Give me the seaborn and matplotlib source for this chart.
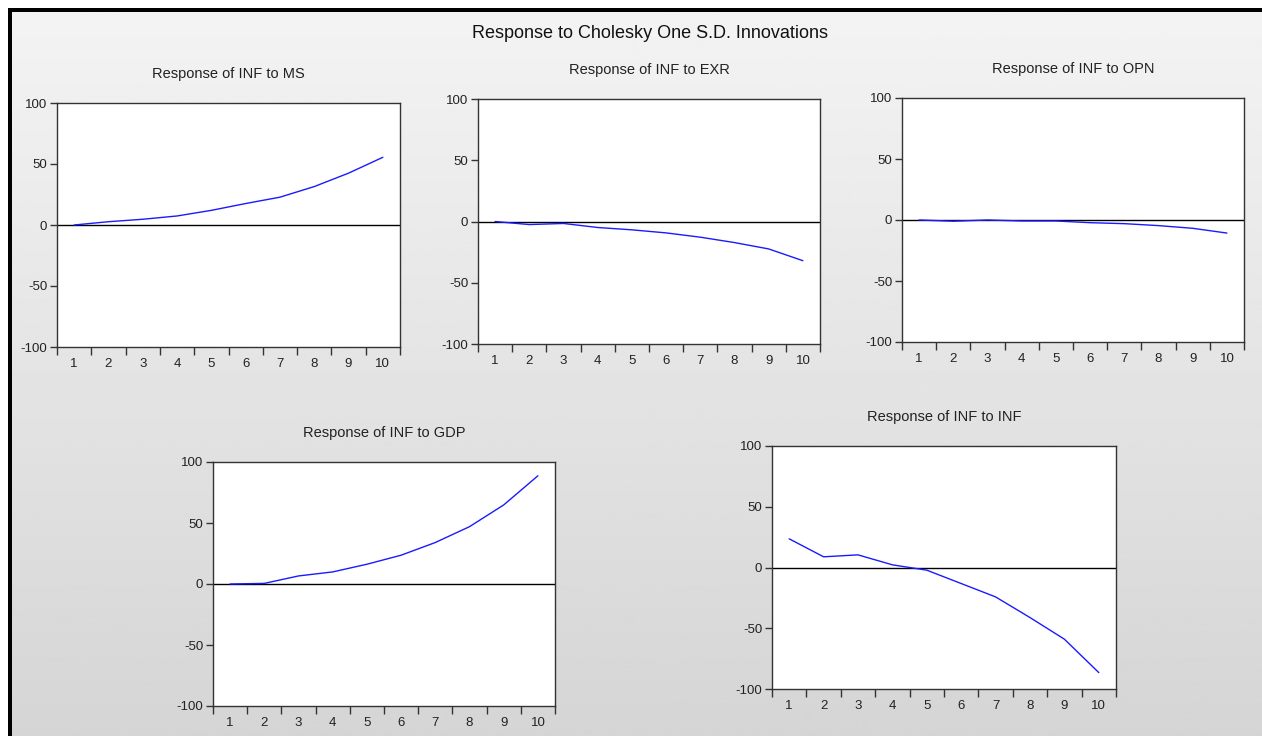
import numpy as np
import pandas as pd
import matplotlib
matplotlib.use("Agg")
import matplotlib.pyplot as plt
from matplotlib.patches import Rectangle
import seaborn as sns

# impulse response values (periods 1..10)
periods = list(range(1, 11))
resp_ms = [0, 2.7, 4.7, 7.4, 12, 17.6, 22.8, 31.5, 42.5, 55.5]
resp_exr = [0, -2.5, -1.6, -4.9, -6.8, -9.3, -12.8, -17.2, -22.4, -32]
resp_opn = [0, -1, 0, -0.8, -0.8, -2.2, -3, -4.6, -6.8, -10.7]
resp_gdp = [0, 0.5, 6.6, 9.9, 16.2, 23.6, 34, 47, 64.8, 88.7]
resp_inf = [23.6, 8.8, 10.4, 2.2, -2.2, -13.2, -24.2, -41.2, -59, -86.5]
shocks = ["MS", "EXR", "OPN", "GDP", "INF"]
y_ticks = [-100, -50, 0, 50, 100]

W, H = 1262, 736

# axes boxes in pixels: left, right, top, bottom
boxes = [
    (57, 400, 103, 347),
    (478, 820, 99, 344),
    (902, 1244, 98, 342),
    (213, 555, 462, 706),
    (772, 1116, 446, 689),
]

sns.set_theme(style="white")
plt.rcParams["font.family"] = ["Liberation Sans", "DejaVu Sans"]

fig = plt.figure(figsize=(W / 100, H / 100), dpi=100)

# grey gradient background with black frame at top/left (screenshot look)
bg = fig.add_axes([0, 0, 1, 1], zorder=-10)
grad = np.linspace(0.955, 0.835, 256).reshape(-1, 1)
bg.imshow(grad, aspect="auto", cmap="gray", vmin=0, vmax=1,
          extent=[0, W, H, 0])
bg.set_xlim(0, W)
bg.set_ylim(H, 0)
bg.add_patch(Rectangle((0, 0), W, 8, color="white", lw=0))
bg.add_patch(Rectangle((0, 0), 8, H, color="white", lw=0))
bg.add_patch(Rectangle((8, 8), W, 4, color="black", lw=0))
bg.add_patch(Rectangle((8, 8), 4, H, color="black", lw=0))
bg.axis("off")

fig.text(650 / W, 1 - 34 / H, "Response to Cholesky One S.D. Innovations",
         ha="center", va="center", fontsize=13, color="#111111")

series = [resp_ms, resp_exr, resp_opn, resp_gdp, resp_inf]
for (l, r, t, b), name, vals in zip(boxes, shocks, series):
    ax = fig.add_axes([l / W, 1 - b / H, (r - l) / W, (b - t) / H])
    ax.set_facecolor("white")
    ax.axhline(0, color="black", lw=1, zorder=1)
    df = pd.DataFrame({"period": periods, "value": vals})
    sns.lineplot(data=df, x="period", y="value", ax=ax, color="#1a1aff",
                 lw=1, zorder=3)
    ax.set_xlim(0.5, 10.5)
    ax.set_ylim(-100, 100)
    ax.set_yticks(y_ticks)
    ax.set_yticklabels([str(v) for v in y_ticks], fontsize=9.5, color="#222222")
    # tick marks at period boundaries, labels at period centres
    ax.set_xticks(np.arange(0.5, 11, 1))
    ax.set_xticklabels([])
    ax.set_xticks(periods, minor=True)
    ax.set_xticklabels([str(p) for p in periods], minor=True,
                       fontsize=9.5, color="#222222")
    ax.tick_params(axis="x", which="major", direction="out", length=6,
                   width=1, color="#333333", bottom=True)
    ax.tick_params(axis="x", which="minor", length=0, pad=8, bottom=True)
    ax.tick_params(axis="y", direction="out", length=5, width=1,
                   color="#333333", left=True, pad=2)
    for sp in ax.spines.values():
        sp.set_color("#333333")
        sp.set_linewidth(1)
    ax.set_xlabel("")
    ax.set_ylabel("")
    ax.set_title(f"Response of INF to {name}", fontsize=10.5,
                 color="#222222", pad=18)

fig.savefig("out.png", dpi=100)
